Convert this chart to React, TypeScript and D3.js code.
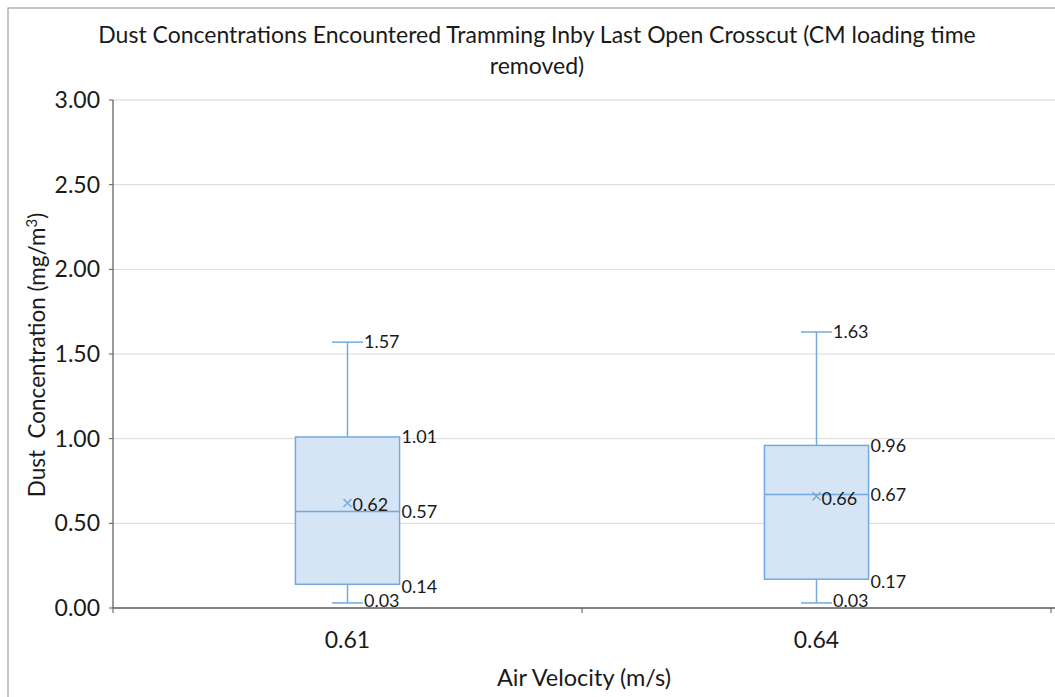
import React from "react";
import * as d3 from "d3";

const categories = ["0.61", "0.64"];
const mins = [0.03, 0.03];
const q1s = [0.14, 0.17];
const medians = [0.57, 0.67];
const q3s = [1.01, 0.96];
const maxs = [1.57, 1.63];
const means = [0.62, 0.66];
const yTicks = [0, 0.5, 1, 1.5, 2, 2.5, 3];

const W = 1055;
const H = 697;
const plotLeft = 113;
const plotRight = 1051;
const plotTop = 100;
const plotBottom = 608;
const FONT = "Lato, 'Open Sans', sans-serif";
const BLUE = "#74a9dd";
const FILL = "#d5e5f5";
const TXT = "#1a1a1a";

export default function App() {
  const x = d3.scaleBand<string>().domain(categories).range([plotLeft, plotRight]).paddingInner(0).paddingOuter(0);
  const y = d3.scaleLinear().domain([0, 3]).range([plotBottom, plotTop]);
  const bw = x.bandwidth();
  const boxW = bw * 0.222;
  const capW = bw * 0.033;
  const fmt = d3.format(".2f");

  return (
    <svg width={W} height={H} style={{ position: "absolute", left: 0, top: 0, background: "#fff" }} fontFamily={FONT}>
      <rect x={8} y={8} width={W + 20} height={H + 20} fill="#fff" stroke="#8c8c8c" strokeWidth={1} />
      <text x={537} y={35} dy="0.35em" textAnchor="middle" fontSize={23} fill={TXT}>
        Dust Concentrations Encountered Tramming Inby Last Open Crosscut (CM loading time
      </text>
      <text x={537} y={66} dy="0.35em" textAnchor="middle" fontSize={23} fill={TXT}>removed)</text>

      {yTicks.map((t) => (
        <g key={t}>
          {t > 0 && <line x1={plotLeft} x2={W} y1={y(t)} y2={y(t)} stroke="#d9d9d9" strokeWidth={1} />}
          <line x1={plotLeft - 4} x2={plotLeft} y1={y(t)} y2={y(t)} stroke="#595959" strokeWidth={1} />
          <text x={plotLeft - 13} y={y(t)} dy="0.35em" textAnchor="end" fontSize={23} fill={TXT}>{fmt(t)}</text>
        </g>
      ))}
      <line x1={plotLeft} x2={plotLeft} y1={plotTop} y2={plotBottom} stroke="#595959" strokeWidth={1.2} />
      <line x1={plotLeft} x2={W} y1={plotBottom} y2={plotBottom} stroke="#595959" strokeWidth={1.5} />
      {[plotLeft, plotLeft + bw, plotLeft + 2 * bw].map((tx, i) => (
        <line key={i} x1={tx} x2={tx} y1={plotBottom} y2={plotBottom + 5} stroke="#595959" strokeWidth={1} />
      ))}

      {categories.map((c, i) => {
        const cx = (x(c) as number) + bw / 2;
        const bl = cx - boxW / 2;
        const br = cx + boxW / 2;
        return (
          <g key={c}>
            <line x1={cx} x2={cx} y1={y(maxs[i])} y2={y(q3s[i])} stroke={BLUE} strokeWidth={1.5} />
            <line x1={cx} x2={cx} y1={y(q1s[i])} y2={y(mins[i])} stroke={BLUE} strokeWidth={1.5} />
            <line x1={cx - capW} x2={cx + capW} y1={y(maxs[i])} y2={y(maxs[i])} stroke={BLUE} strokeWidth={1.5} />
            <line x1={cx - capW} x2={cx + capW} y1={y(mins[i])} y2={y(mins[i])} stroke={BLUE} strokeWidth={1.5} />
            <rect x={bl} y={y(q3s[i])} width={boxW} height={y(q1s[i]) - y(q3s[i])} fill={FILL} stroke={BLUE} strokeWidth={1.5} />
            <line x1={bl} x2={br} y1={y(medians[i])} y2={y(medians[i])} stroke={BLUE} strokeWidth={1.5} />
            <path
              d={`M${cx - 4},${y(means[i]) - 4}L${cx + 4},${y(means[i]) + 4}M${cx - 4},${y(means[i]) + 4}L${cx + 4},${y(means[i]) - 4}`}
              stroke={BLUE}
              strokeWidth={1.5}
            />
            <text x={cx + 5} y={y(means[i]) + 2} dy="0.35em" fontSize={18} fill={TXT}>{fmt(means[i])}</text>
            <text x={cx + capW + 1} y={y(maxs[i])} dy="0.35em" fontSize={18} fill={TXT}>{fmt(maxs[i])}</text>
            <text x={cx + capW + 1} y={y(mins[i]) - 2} dy="0.35em" fontSize={18} fill={TXT}>{fmt(mins[i])}</text>
            <text x={br + 2} y={y(q3s[i])} dy="0.35em" fontSize={18} fill={TXT}>{fmt(q3s[i])}</text>
            <text x={br + 2} y={y(medians[i])} dy="0.35em" fontSize={18} fill={TXT}>{fmt(medians[i])}</text>
            <text x={br + 2} y={y(q1s[i]) + 2} dy="0.35em" fontSize={18} fill={TXT}>{fmt(q1s[i])}</text>
            <text x={cx} y={640} dy="0.35em" textAnchor="middle" fontSize={23} fill={TXT}>{c}</text>
          </g>
        );
      })}

      <text x={584} y={678} dy="0.35em" textAnchor="middle" fontSize={23.5} fill={TXT}>Air Velocity (m/s)</text>
      <text transform={`translate(37,${355}) rotate(-90)`} textAnchor="middle" fontSize={22.5} fill={TXT} dy="0.35em" xmlSpace="preserve">
        Dust  Concentration (mg/m<tspan dy="-8" fontSize={15}>3</tspan><tspan dy="8">)</tspan>
      </text>
    </svg>
  );
}
